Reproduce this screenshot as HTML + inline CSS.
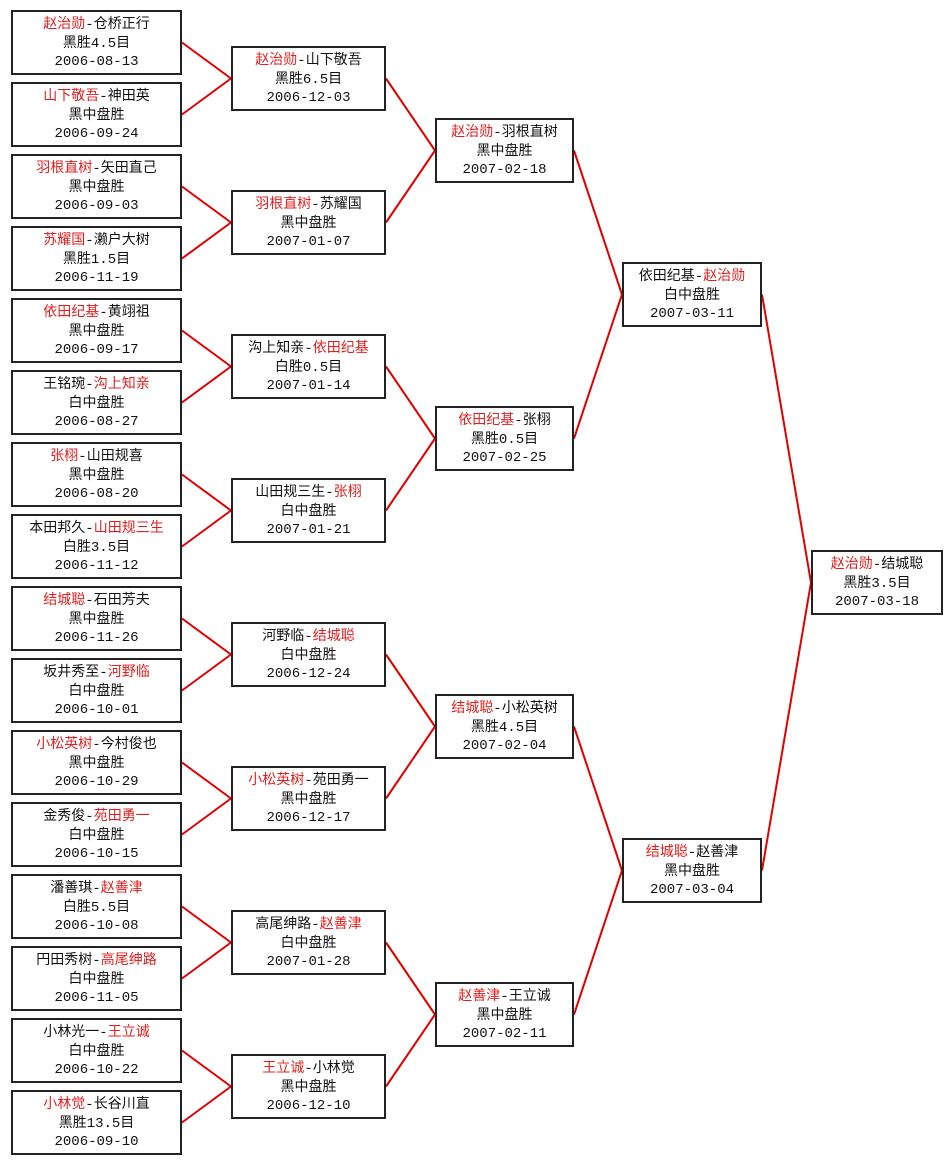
<!DOCTYPE html>
<html><head><meta charset="utf-8">
<style>
body{margin:0;width:944px;height:1165px;background:#fff;position:relative;overflow:hidden;font-family:"Liberation Mono","Noto Sans CJK SC","WenQuanYi Zen Hei",monospace;}
.b{position:absolute;box-sizing:border-box;border:2px solid #222;background:#fff;text-align:center;font-size:14px;line-height:18.5px;color:#111;padding-top:4px;white-space:nowrap;}
.r{color:#e02020}
svg{position:absolute;left:0;top:0}
</style></head><body>
<svg width="944" height="1165" id="s"></svg>
<div id="c"></div>
<script>
var cols=[
{x:11,w:171,y0:10,p:72,d:[
['<span class=r>赵治勋</span>-仓桥正行','黑胜4.5目','2006-08-13'],
['<span class=r>山下敬吾</span>-神田英','黑中盘胜','2006-09-24'],
['<span class=r>羽根直树</span>-矢田直己','黑中盘胜','2006-09-03'],
['<span class=r>苏耀国</span>-濑户大树','黑胜1.5目','2006-11-19'],
['<span class=r>依田纪基</span>-黄翊祖','黑中盘胜','2006-09-17'],
['王铭琬-<span class=r>沟上知亲</span>','白中盘胜','2006-08-27'],
['<span class=r>张栩</span>-山田规喜','黑中盘胜','2006-08-20'],
['本田邦久-<span class=r>山田规三生</span>','白胜3.5目','2006-11-12'],
['<span class=r>结城聪</span>-石田芳夫','黑中盘胜','2006-11-26'],
['坂井秀至-<span class=r>河野临</span>','白中盘胜','2006-10-01'],
['<span class=r>小松英树</span>-今村俊也','黑中盘胜','2006-10-29'],
['金秀俊-<span class=r>苑田勇一</span>','白中盘胜','2006-10-15'],
['潘善琪-<span class=r>赵善津</span>','白胜5.5目','2006-10-08'],
['円田秀树-<span class=r>高尾绅路</span>','白中盘胜','2006-11-05'],
['小林光一-<span class=r>王立诚</span>','白中盘胜','2006-10-22'],
['<span class=r>小林觉</span>-长谷川直','黑胜13.5目','2006-09-10']]},
{x:231,w:155,y0:46,p:144,d:[
['<span class=r>赵治勋</span>-山下敬吾','黑胜6.5目','2006-12-03'],
['<span class=r>羽根直树</span>-苏耀国','黑中盘胜','2007-01-07'],
['沟上知亲-<span class=r>依田纪基</span>','白胜0.5目','2007-01-14'],
['山田规三生-<span class=r>张栩</span>','白中盘胜','2007-01-21'],
['河野临-<span class=r>结城聪</span>','白中盘胜','2006-12-24'],
['<span class=r>小松英树</span>-苑田勇一','黑中盘胜','2006-12-17'],
['高尾绅路-<span class=r>赵善津</span>','白中盘胜','2007-01-28'],
['<span class=r>王立诚</span>-小林觉','黑中盘胜','2006-12-10']]},
{x:435,w:139,y0:118,p:288,d:[
['<span class=r>赵治勋</span>-羽根直树','黑中盘胜','2007-02-18'],
['<span class=r>依田纪基</span>-张栩','黑胜0.5目','2007-02-25'],
['<span class=r>结城聪</span>-小松英树','黑胜4.5目','2007-02-04'],
['<span class=r>赵善津</span>-王立诚','黑中盘胜','2007-02-11']]},
{x:622,w:140,y0:262,p:576,d:[
['依田纪基-<span class=r>赵治勋</span>','白中盘胜','2007-03-11'],
['<span class=r>结城聪</span>-赵善津','黑中盘胜','2007-03-04']]},
{x:811,w:132,y0:550,p:0,d:[
['<span class=r>赵治勋</span>-结城聪','黑胜3.5目','2007-03-18']]}];
var h=65,html='',lines='',pos=[];
cols.forEach(function(c,ci){pos[ci]=[];c.d.forEach(function(t,i){var y=c.y0+i*c.p;pos[ci].push(y+h/2);
html+='<div class=b style="left:'+c.x+'px;top:'+y+'px;width:'+c.w+'px;height:'+h+'px">'+t.join('<br>')+'</div>';
if(ci>0){var pc=cols[ci-1];[0,1].forEach(function(k){var py=pos[ci-1][i*2+k];lines+='<line x1="'+(pc.x+pc.w)+'" y1="'+py+'" x2="'+c.x+'" y2="'+(y+h/2)+'" stroke="#e00000" stroke-width="2"/>';});}});});
document.getElementById('c').innerHTML=html;document.getElementById('s').innerHTML=lines;
</script>
</body></html>
